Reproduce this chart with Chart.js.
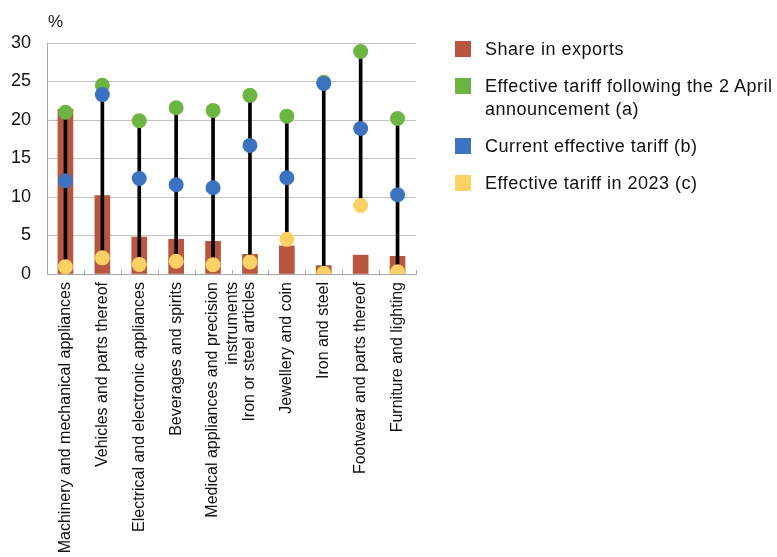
<!DOCTYPE html>
<html>
<head>
<meta charset="utf-8">
<script src="https://cdn.jsdelivr.net/npm/chart.js@4/dist/chart.umd.min.js"></script>
<style>
  html, body { margin: 0; padding: 0; background: #fff; }
  #wrap { position: relative; width: 777px; height: 557px; font-family: 'Liberation Sans', Arial, Helvetica, sans-serif; color: #111; }
  #c { position: absolute; left: 0; top: 0; }
  .unit { position: absolute; left: 48px; top: 12px; font-size: 17px; }
  .legend { position: absolute; left: 455px; top: 0; font-size: 18px; letter-spacing: 0.5px; }
  .item { position: absolute; left: 0; white-space: nowrap; }
  .sw { position: absolute; left: 0; top: 3px; width: 16px; height: 16px; }
  .txt { position: absolute; left: 30px; top: 0; line-height: 22.5px; }
</style>
</head>
<body>
<div id="wrap">
  <canvas id="c" width="777" height="557"></canvas>
  <div class="unit">%</div>
  <div class="legend" id="legend"></div>
</div>
<script>
// Product groups
const categories = [
  'Machinery and mechanical appliances',
  'Vehicles and parts thereof',
  'Electrical and electronic appliances',
  'Beverages and spirits',
  ['Medical appliances and precision', 'instruments'],
  'Iron or steel articles',
  'Jewellery and coin',
  'Iron and steel',
  'Footwear and parts thereof',
  'Furniture and lighting'
];

// Share in exports (%)
const shareInExports = [21.4, 10.2, 4.8, 4.5, 4.25, 2.55, 3.65, 1.1, 2.45, 2.3];
// Effective tariff following the 2 April announcement (%)
const tariffApril = [21.0, 24.5, 19.9, 21.6, 21.25, 23.2, 20.5, 24.9, 28.9, 20.2];
// Current effective tariff (%)
const tariffCurrent = [12.1, 23.3, 12.4, 11.6, 11.2, 16.7, 12.5, 24.75, 18.9, 10.3];
// Effective tariff in 2023 (%)
const tariff2023 = [0.95, 2.1, 1.25, 1.65, 1.2, 1.55, 4.5, 0.1, 8.9, 0.3];

const yTicks = [0, 5, 10, 15, 20, 25, 30];

const colors = {
  share: '#b9563f',
  april: '#6cb543',
  current: '#3b73c0',
  y2023: '#fdd163'
};

// Vertical range line spanning the three tariff readings of each group
const tariffRange = categories.map((_, i) => {
  const v = [tariffApril[i], tariffCurrent[i], tariff2023[i]];
  return [Math.min(...v), Math.max(...v)];
});

const pointSet = (label, data, color, order) => ({
  type: 'line',
  label,
  data,
  showLine: false,
  pointRadius: 7.5,
  pointHoverRadius: 7.5,
  pointBackgroundColor: color,
  pointBorderWidth: 0,
  borderColor: color,
  backgroundColor: color,
  order
});

// Short inward tick marks on the category axis, at the boundaries between groups
const innerCategoryTicks = {
  id: 'innerCategoryTicks',
  afterDatasetsDraw(chart) {
    const x = chart.scales.x;
    const { ctx, chartArea } = chart;
    const n = chart.data.labels.length;
    const marks = [];
    for (let i = 0; i <= n; i++) {
      if (i === 0) marks.push(chartArea.left);
      else if (i === n) marks.push(chartArea.right);
      else marks.push((x.getPixelForValue(i - 1) + x.getPixelForValue(i)) / 2);
    }
    ctx.save();
    ctx.strokeStyle = '#a6a6a6';
    ctx.lineWidth = 1;
    ctx.beginPath();
    marks.forEach(px => {
      const xx = Math.round(px) + 0.5;
      ctx.moveTo(xx, chartArea.bottom);
      ctx.lineTo(xx, chartArea.bottom - 4);
    });
    ctx.stroke();
    ctx.restore();
  }
};

Chart.defaults.font.family = "'Liberation Sans', Arial, Helvetica, sans-serif";
Chart.defaults.color = '#111';

new Chart(document.getElementById('c'), {
  type: 'bar',
  data: {
    labels: categories,
    datasets: [
      {
        label: 'Share in exports',
        data: shareInExports,
        backgroundColor: colors.share,
        barThickness: 15,
        grouped: false,
        order: 10
      },
      {
        label: 'range',
        data: tariffRange,
        backgroundColor: '#000',
        barThickness: 3,
        grouped: false,
        order: 9
      },
      pointSet('Effective tariff in 2023 (c)', tariff2023, colors.y2023, 3),
      pointSet('Effective tariff following the 2 April announcement (a)', tariffApril, colors.april, 2),
      pointSet('Current effective tariff (b)', tariffCurrent, colors.current, 1)
    ]
  },
  plugins: [innerCategoryTicks],
  options: {
    responsive: false,
    animation: false,
    events: [],
    layout: { padding: { left: 0, right: 361, top: 43, bottom: 0 } },
    plugins: {
      legend: { display: false },
      tooltip: { enabled: false }
    },
    scales: {
      x: {
        offset: true,
        afterFit: (scale) => { scale.height = 283; },
        grid: { display: false },
        border: { display: true, color: '#a6a6a6' },
        ticks: {
          maxRotation: 90,
          minRotation: 90,
          autoSkip: false,
          padding: 0,
          font: { size: 16 },
          color: '#111'
        }
      },
      y: {
        min: 0,
        max: 30,
        afterFit: (scale) => { scale.width = 47; },
        afterBuildTicks: (axis) => { axis.ticks = yTicks.map(v => ({ value: v })); },
        grid: { color: '#c4c4c4', drawTicks: false },
        border: { display: true, color: '#a6a6a6' },
        ticks: { padding: 16, font: { size: 18 }, color: '#111' }
      }
    }
  }
});

// Legend
const legendItems = [
  { color: colors.share, text: 'Share in exports', top: 38 },
  { color: colors.april, text: 'Effective tariff following the 2 April<br>announcement (a)', top: 75 },
  { color: colors.current, text: 'Current effective tariff (b)', top: 135 },
  { color: colors.y2023, text: 'Effective tariff in 2023 (c)', top: 172 }
];
const legend = document.getElementById('legend');
legendItems.forEach(it => {
  const d = document.createElement('div');
  d.className = 'item';
  d.style.top = it.top + 'px';
  d.innerHTML = '<div class="sw" style="background:' + it.color + '"></div><div class="txt">' + it.text + '</div>';
  legend.appendChild(d);
});
</script>
</body>
</html>
